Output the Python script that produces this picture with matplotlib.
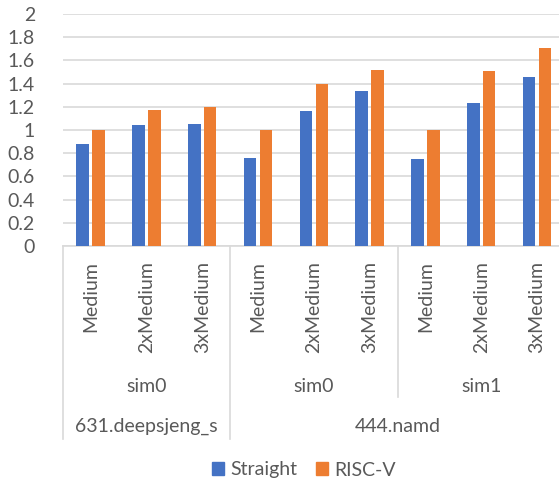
import matplotlib
matplotlib.use('Agg')
import matplotlib.pyplot as plt
import numpy as np
from matplotlib.patches import Patch
from matplotlib.transforms import blended_transform_factory

plt.rcParams['font.family'] = ['Lato', 'DejaVu Sans']

configs = ['Medium', '2xMedium', '3xMedium'] * 3
sims = ['sim0', 'sim0', 'sim1']
benchmarks = ['631.deepsjeng_s', '444.namd']
bench_span = [1, 2]  # number of sim groups per benchmark
straight = [0.88, 1.04, 1.05, 0.76, 1.16, 1.34, 0.75, 1.23, 1.46]
riscv = [1.00, 1.17, 1.20, 1.00, 1.40, 1.52, 1.00, 1.51, 1.71]

blue = '#4472C4'
orange = '#ED7D31'
grid = '#D9D9D9'
txt = '#595959'
fs = 14

fig = plt.figure(figsize=(5.59, 4.82), dpi=100)
ax = fig.add_axes([62.7 / 559, 236 / 482, 502.3 / 559, 232 / 482])

x = np.arange(len(configs))
w = 0.224
ax.bar(x - 0.142, straight, w, color=blue, zorder=3)
ax.bar(x + 0.142, riscv, w, color=orange, zorder=3)

ax.set_xlim(-0.5, len(configs) - 0.5)
ax.set_ylim(0, 2)
ax.set_yticks(np.arange(0, 2.01, 0.2))
ax.set_yticklabels(['0', '0.2', '0.4', '0.6', '0.8', '1', '1.2', '1.4', '1.6', '1.8', '2'])
ax.yaxis.grid(True, color=grid, lw=1.2, zorder=0)
ax.tick_params(axis='y', length=0, pad=20, labelsize=fs, labelcolor=txt)
ax.set_xticks([])
for s in ['top', 'right', 'left']:
    ax.spines[s].set_visible(False)
ax.spines['bottom'].set_color(grid)
ax.spines['bottom'].set_linewidth(1.2)

tr = blended_transform_factory(ax.transData, ax.transAxes)
ph = 232.0

def ay(p):
    return (246 - p) / ph

# level 1: config labels
for i, c in enumerate(configs):
    ax.text(i, ay(261), c, rotation=90, ha='center', va='top', fontsize=fs,
            color=txt, transform=tr, clip_on=False)

# level 2: sim labels
for j, s in enumerate(sims):
    ax.text(3 * j + 1, ay(386), s, ha='center', va='center', fontsize=fs,
            color=txt, transform=tr, clip_on=False)

# level 3: benchmark labels
start = 0
for b, n in zip(benchmarks, bench_span):
    mid = start + 3 * n / 2 - 0.5
    ax.text(mid, ay(426), b, ha='center', va='center', fontsize=fs,
            color=txt, transform=tr, clip_on=False)
    start += 3 * n

# separator lines
ax.plot([-0.5, -0.5], [0, ay(439)], color=grid, lw=1.2, transform=tr, clip_on=False)
ax.plot([2.5, 2.5], [0, ay(439)], color=grid, lw=1.2, transform=tr, clip_on=False)
ax.plot([5.5, 5.5], [0, ay(397)], color=grid, lw=1.2, transform=tr, clip_on=False)

handles = [Patch(color=blue, label='Straight'), Patch(color=orange, label='RISC-V')]
leg = fig.legend(handles=handles, loc='center', bbox_to_anchor=(304 / 559, 12 / 482),
                 ncol=2, frameon=False, fontsize=fs, handlelength=0.6, handleheight=0.6,
                 handletextpad=0.3, columnspacing=1.0)
for t in leg.get_texts():
    t.set_color(txt)

fig.savefig('out.png', dpi=100)
